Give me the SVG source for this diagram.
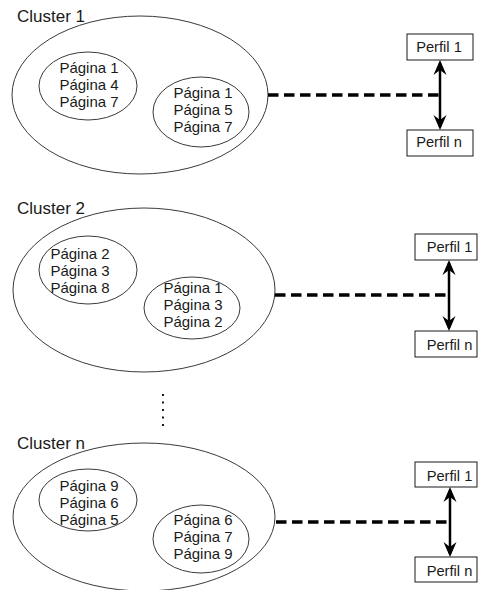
<svg xmlns="http://www.w3.org/2000/svg" width="478" height="590" viewBox="0 0 478 590">
<style>
  .lbl { font-family: "Liberation Sans", Arial, sans-serif; font-size: 17px; fill: #1a1a1a; }
  .pg { font-family: "Liberation Sans", Arial, sans-serif; font-size: 15px; fill: #1a1a1a; text-anchor: middle; }
  .pf { font-family: "Liberation Sans", Arial, sans-serif; font-size: 14.7px; fill: #1a1a1a; text-anchor: middle; }
  .big { fill: #ffffff; stroke: #3a3a3a; stroke-width: 1; }
  .small { fill: #ffffff; stroke: #3a3a3a; stroke-width: 1; }
  .box { fill: #ffffff; stroke: #1a1a1a; stroke-width: 1; }
  .dash { stroke: #000; stroke-width: 3.5; stroke-dasharray: 10.5 5.5; fill: none; }
  .arr { stroke: #000; stroke-width: 2.5; fill: none; marker-start: url(#ah); marker-end: url(#ah); }
</style>
<defs>
  <marker id="ah" viewBox="-16 -8 17 16" refX="-3" refY="0" markerWidth="17" markerHeight="16" markerUnits="userSpaceOnUse" orient="auto-start-reverse">
    <path d="M0,0 L-15,-6.5 L-10,0 L-15,6.5 Z" fill="#000"/>
  </marker>
</defs>
<rect width="478" height="590" fill="#ffffff"/>

<g id="cluster1">
  <ellipse class="big" cx="140" cy="95" rx="128" ry="79"/>
  <text class="lbl" x="17" y="22">Cluster 1</text>
  <g id="c1a">
    <ellipse class="small" cx="88" cy="86" rx="49" ry="34"/>
    <text class="pg" x="89" y="73">Página 1</text>
    <text class="pg" x="89" y="90">Página 4</text>
    <text class="pg" x="89" y="107">Página 7</text>
  </g>
  <g id="c1b">
    <ellipse class="small" cx="201" cy="112" rx="48" ry="35"/>
    <text class="pg" x="203" y="98">Página 1</text>
    <text class="pg" x="203" y="115">Página 5</text>
    <text class="pg" x="203" y="132">Página 7</text>
  </g>
</g>
<g id="c1p1">
  <rect class="box" x="407" y="34" width="66" height="26"/>
  <text class="pf" x="439" y="52">Perfil 1</text>
</g>
<g id="c1pn">
  <rect class="box" x="407" y="130" width="66" height="26"/>
  <text class="pf" x="439" y="147">Perfil n</text>
</g>

<g id="cluster2">
  <ellipse class="big" cx="144" cy="290" rx="131" ry="82"/>
  <text class="lbl" x="17" y="214">Cluster 2</text>
  <g id="c2a">
    <ellipse class="small" cx="88" cy="270" rx="49" ry="34"/>
    <text class="pg" x="80" y="259">Página 2</text>
    <text class="pg" x="80" y="276">Página 3</text>
    <text class="pg" x="80" y="293">Página 8</text>
  </g>
  <g id="c2b">
    <ellipse class="small" cx="192" cy="308" rx="48" ry="31"/>
    <text class="pg" x="193" y="293">Página 1</text>
    <text class="pg" x="193" y="310">Página 3</text>
    <text class="pg" x="193" y="327">Página 2</text>
  </g>
</g>
<g id="c2p1">
  <rect class="box" x="415" y="234" width="62" height="26"/>
  <text class="pf" x="449.5" y="252">Perfil 1</text>
</g>
<g id="c2pn">
  <rect class="box" x="415" y="331" width="62" height="26"/>
  <text class="pf" x="449.5" y="350">Perfil n</text>
</g>

<g id="ellipsis">
  <line x1="163" y1="394" x2="163" y2="427" stroke="#1a1a1a" stroke-width="2" stroke-dasharray="2 5.5"/>
</g>

<g id="clustern">
  <ellipse class="big" cx="144" cy="517" rx="131" ry="74"/>
  <text class="lbl" x="17" y="449">Cluster n</text>
  <g id="cna">
    <ellipse class="small" cx="88" cy="500" rx="49" ry="31"/>
    <text class="pg" x="89" y="491">Página 9</text>
    <text class="pg" x="89" y="508">Página 6</text>
    <text class="pg" x="89" y="525">Página 5</text>
  </g>
  <g id="cnb">
    <ellipse class="small" cx="201" cy="539" rx="48" ry="34"/>
    <text class="pg" x="203" y="525">Página 6</text>
    <text class="pg" x="203" y="542">Página 7</text>
    <text class="pg" x="203" y="559">Página 9</text>
  </g>
</g>
<g id="cnp1">
  <rect class="box" x="415" y="462" width="62" height="25"/>
  <text class="pf" x="449.5" y="481">Perfil 1</text>
</g>
<g id="cnpn">
  <rect class="box" x="415" y="557" width="62" height="25"/>
  <text class="pf" x="449.5" y="576">Perfil n</text>
</g>

<g id="connectors">
  <line class="dash" x1="268" y1="95" x2="440" y2="95"/>
  <line class="arr" x1="440" y1="63" x2="440" y2="127"/>
  <line class="dash" x1="275" y1="295" x2="449" y2="295"/>
  <line class="arr" x1="449" y1="263" x2="449" y2="328"/>
  <line class="dash" x1="276" y1="522" x2="450" y2="522"/>
  <line class="arr" x1="450" y1="490" x2="450" y2="554"/>
</g>
</svg>
